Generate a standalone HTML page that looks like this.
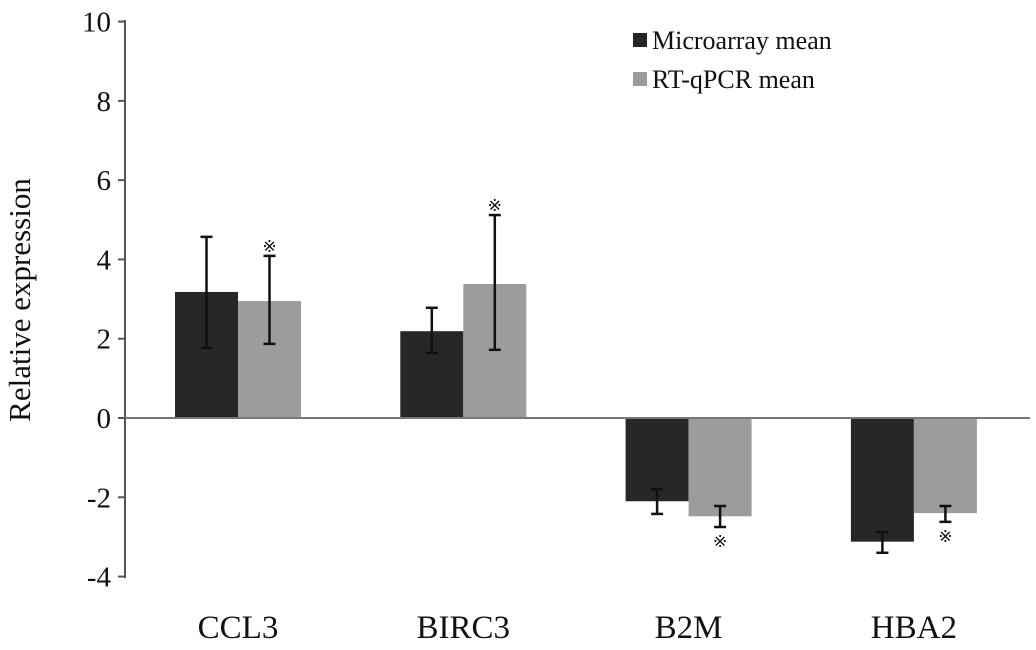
<!DOCTYPE html>
<html><head><meta charset="utf-8"><style>
html,body{margin:0;padding:0;background:#fff;}
svg{display:block;font-family:"Liberation Serif",serif;}
</style></head><body>
<svg id="chart" width="1036" height="650"></svg>
<script>
const categories=["CCL3","BIRC3","B2M","HBA2"];
const microMean=[3.18,2.19,-2.1,-3.12];
const microLow=[1.77,1.64,-2.42,-3.4];
const microHigh=[4.57,2.78,-1.8,-2.88];
const qpcrMean=[2.95,3.38,-2.48,-2.4];
const qpcrLow=[1.87,1.72,-2.75,-2.62];
const qpcrHigh=[4.09,5.12,-2.22,-2.22];
const qpcrMark=[true,true,true,true];
const yTicks=[10,8,6,4,2,0,-2,-4];
const svg=document.getElementById('chart');
const NS='http://www.w3.org/2000/svg';
function y(v){return 418-v*39.64;}
function x(i){return 175+i*225.3;}
const BW=63;
function mk(t,a,p){const e=document.createElementNS(NS,t);for(const k in a)e.setAttribute(k,a[k]);(p||svg).appendChild(e);return e;}
let ax=mk('line',{x1:125,y1:20,x2:125,y2:578,stroke:'#555','stroke-width':2});


yTicks.forEach(t=>{
 const tl=mk('line',{x1:118,x2:125,y1:y(t),y2:y(t),stroke:'#555','stroke-width':2});
 
 
 const tx=mk('text',{x:111,y:y(t)+10,'text-anchor':'end','font-size':29,fill:'#111'});
 tx.textContent=t;
 
 
});
function errBar(cx,lo,hi){
 const g=mk('g',{stroke:'#111','stroke-width':2.5});
 
 
 mk('line',{x1:cx,x2:cx,y1:y(hi),y2:y(lo)},g);
 mk('line',{x1:cx-6,x2:cx+6,y1:y(hi),y2:y(hi)},g);
 mk('line',{x1:cx-6,x2:cx+6,y1:y(lo),y2:y(lo)},g);
}
categories.forEach((c,i)=>{
 const x0=x(i);
 const b1=mk('rect',{x:x0,y:Math.min(y(0),y(microMean[i])),width:BW,height:Math.abs(y(microMean[i])-y(0)),fill:'#272727'});
 
 
 const b2=mk('rect',{x:x0+BW,y:Math.min(y(0),y(qpcrMean[i])),width:BW,height:Math.abs(y(qpcrMean[i])-y(0)),fill:'#9c9c9c'});
 
 
 errBar(x0+BW/2,microLow[i],microHigh[i]);
 errBar(x0+BW*1.5,qpcrLow[i],qpcrHigh[i]);
 if(qpcrMark[i]){
  const pos=qpcrMean[i]>=0;
  const m=mk('text',{x:x0+BW*1.5,y:pos?y(qpcrHigh[i])-4:y(qpcrLow[i])+20,'text-anchor':'middle','font-size':17,fill:'#111'});
  m.textContent='※';
  
  
 }
 const cl=mk('text',{x:x0+BW,y:638,'text-anchor':'middle','font-size':33,fill:'#111'});
 cl.textContent=c;
 
 
});
let zl=mk('line',{x1:125,y1:418,x2:1030,y2:418,stroke:'#777','stroke-width':2});


let yt=mk('text',{x:0,y:0,transform:'translate(30,300) rotate(-90)','text-anchor':'middle','font-size':31,fill:'#111'});
yt.textContent='Relative expression';


[['#272727','Microarray mean',40],['#9c9c9c','RT-qPCR mean',79]].forEach(([col,lab,ly])=>{
 const r=mk('rect',{x:633,y:ly-7,width:14,height:14,fill:col});
 
 
 const t=mk('text',{x:652,y:ly+9,'font-size':26,fill:'#111'});
 t.textContent=lab;
 
 
});
</script>
</body></html>
